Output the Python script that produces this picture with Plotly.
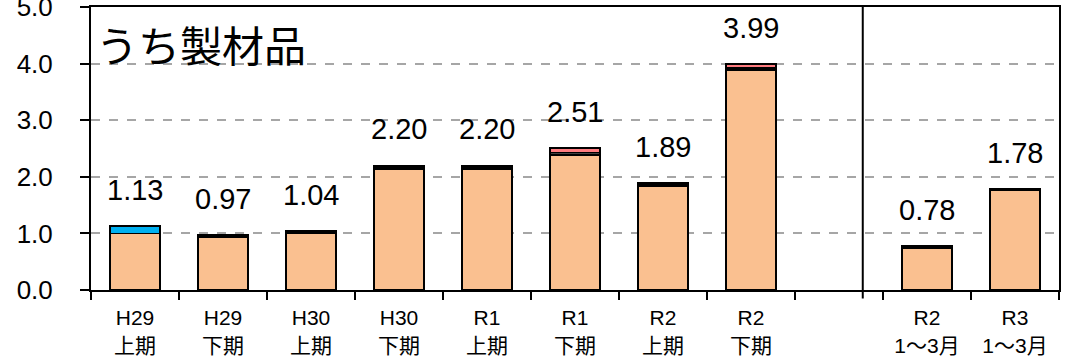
import plotly.graph_objects as go

# ---- data ----
categories = ["H29<br>上期", "H29<br>下期", "H30<br>上期", "H30<br>下期",
              "R1<br>上期", "R1<br>下期", "R2<br>上期", "R2<br>下期",
              " ", "R2<br>1～3月", "R3<br>1～3月"]
totals = [1.13, 0.97, 1.04, 2.20, 2.20, 2.51, 1.89, 3.99, None, 0.78, 1.78]

seg_orange = [1.00, 0.94, 1.01, 2.14, 2.14, 2.39, 1.83, 3.89, None, 0.74, 1.76]
seg_dark   = [None, 0.03, None, 0.03, 0.03, 0.04, 0.03, 0.03, None, 0.04, 0.02]
seg_blue   = [0.13, None, None, None, None, None, None, None, None, None, None]
seg_brown  = [None, None, 0.03, None, None, None, None, None, None, None, None]
seg_teal   = [None, None, None, None, None, None, 0.03, None, None, None, None]
seg_pink   = [None, None, None, 0.03, 0.03, 0.08, None, 0.07, None, None, None]

title_text = "うち製材品"

series = [
    ("製材品A", seg_orange, "#FAC090"),
    ("製材品B", seg_dark, "#404040"),
    ("製材品C", seg_blue, "#00B0F0"),
    ("製材品D", seg_brown, "#7B3B2E"),
    ("製材品E", seg_teal, "#31859C"),
    ("製材品F", seg_pink, "#FF7C80"),
]

num_font = "Liberation Sans, Arial, Noto Sans CJK JP, sans-serif"
jp_font = "Noto Sans CJK JP, Liberation Sans, sans-serif"

fig = go.Figure()
for name, vals, color in series:
    fig.add_trace(go.Bar(
        x=categories, y=vals, name=name,
        marker=dict(color=color, line=dict(color="black", width=1.8)),
        width=0.56, showlegend=False, hoverinfo="skip",
    ))

# value labels above bars
for cat, t in zip(categories, totals):
    if t is None:
        continue
    fig.add_annotation(x=cat, y=t, xref="x", yref="y", text=f"{t:.2f}",
                       showarrow=False, yanchor="bottom", yshift=18,
                       font=dict(family=num_font, size=29, color="black"))

# title inside plot
fig.add_annotation(x=0.003, y=0.87, xref="paper", yref="paper", text=title_text,
                   showarrow=False, xanchor="left", yanchor="middle",
                   font=dict(family=jp_font, size=42, color="black"))

# divider between the two panels
fig.add_shape(type="line", xref="x", yref="paper", x0=8.27, x1=8.27, y0=-0.03, y1=1,
              line=dict(color="black", width=2), layer="above")

fig.update_layout(
    width=1067, height=358,
    margin=dict(l=91, r=8, t=7, b=68),
    barmode="stack",
    plot_bgcolor="white", paper_bgcolor="white",
    font=dict(family=jp_font, color="black"),
    bargap=0.44,
)
fig.update_xaxes(
    type="category", categoryorder="array", categoryarray=categories,
    range=[-0.5, 10.5], automargin=False,
    showline=True, linecolor="black", linewidth=2, mirror=True,
    ticks="outside", tickson="boundaries", ticklen=8, tickwidth=1.5, tickcolor="black",
    tickfont=dict(family=num_font, size=21, color="black"),
    ticklabelstandoff=8,
    showgrid=False,
)
fig.update_yaxes(
    range=[0, 5], dtick=1, tickformat=".1f", automargin=False,
    showline=True, linecolor="black", linewidth=2, mirror=True,
    ticks="outside", ticklen=9, tickwidth=1.5, tickcolor="black",
    tickfont=dict(family=num_font, size=26, color="black"),
    ticklabelstandoff=22, ticklabeloverflow="allow",
    showgrid=True, gridcolor="#A6A6A6", gridwidth=1.5, griddash="dash",
    zeroline=False,
)

fig.write_html("out.html", config={"displayModeBar": False},
               post_script="document.body.style.margin='0';document.body.style.overflow='hidden';")
